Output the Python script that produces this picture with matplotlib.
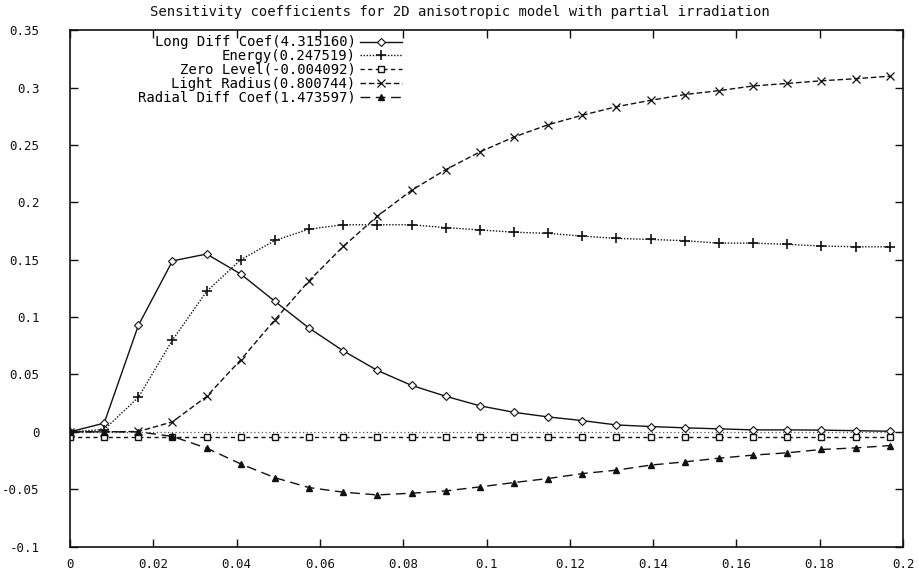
import matplotlib
matplotlib.use("Agg")
import matplotlib.pyplot as plt

# sampling positions along the x axis
x = [0.0, 0.0082, 0.0164, 0.0246, 0.0328, 0.041, 0.0492, 0.0574, 0.0656,
     0.0738, 0.082, 0.0902, 0.0984, 0.1066, 0.1148, 0.123, 0.1312, 0.1394,
     0.1476, 0.1558, 0.164, 0.1722, 0.1804, 0.1886, 0.1968]

long_diff = [0.0, 0.0076, 0.0927, 0.149, 0.155, 0.1375, 0.1137, 0.0904, 0.0706,
             0.0535, 0.0405, 0.031, 0.0227, 0.017, 0.013, 0.0098, 0.006, 0.0046,
             0.0035, 0.0026, 0.0017, 0.0017, 0.0015, 0.001, 0.0005]
energy = [0.0, 0.002, 0.030, 0.080, 0.1224, 0.150, 0.1668, 0.1767, 0.1805,
          0.1805, 0.1805, 0.178, 0.176, 0.174, 0.173, 0.1706, 0.1686, 0.1677,
          0.1666, 0.1645, 0.1645, 0.1634, 0.162, 0.1613, 0.1613]
zero_level = [-0.004092, -0.004092, -0.004092, -0.004092, -0.004092,
              -0.004092, -0.004092, -0.004092, -0.004092, -0.004092,
              -0.004092, -0.004092, -0.004092, -0.004092, -0.004092,
              -0.004092, -0.004092, -0.004092, -0.004092, -0.004092,
              -0.004092, -0.004092, -0.004092, -0.004092, -0.004092]
light_radius = [0.0, 0.0, 0.0003, 0.0087, 0.0308, 0.0628, 0.0977, 0.1317, 0.1616,
                0.188, 0.2105, 0.2285, 0.244, 0.257, 0.2677, 0.276, 0.2834, 0.289,
                0.294, 0.2974, 0.3015, 0.3037, 0.306, 0.3078, 0.31]
radial_diff = [0.0, 0.0, 0.0, -0.004, -0.0142, -0.028, -0.040, -0.0486, -0.0526,
               -0.055, -0.0535, -0.0515, -0.048, -0.0442, -0.0407, -0.0364, -0.0334,
               -0.029, -0.0262, -0.023, -0.0203, -0.0183, -0.0154, -0.014, -0.012]

labels = ["Long Diff Coef(4.315160)", "Energy(0.247519)", "Zero Level(-0.004092)",
          "Light Radius(0.800744)", "Radial Diff Coef(1.473597)"]

xticks = [0, 0.02, 0.04, 0.06, 0.08, 0.1, 0.12, 0.14, 0.16, 0.18, 0.2]
xtick_labels = ["0", "0.02", "0.04", "0.06", "0.08", "0.1", "0.12", "0.14", "0.16", "0.18", "0.2"]
yticks = [-0.1, -0.05, 0, 0.05, 0.1, 0.15, 0.2, 0.25, 0.3, 0.35]
ytick_labels = ["-0.1", "-0.05", "0", "0.05", "0.1", "0.15", "0.2", "0.25", "0.3", "0.35"]

plt.rcParams['font.family'] = ['DejaVu Sans Mono']

fig = plt.figure(figsize=(9.19, 5.72), dpi=100)
ax = fig.add_axes([0.0762, 0.0445, 0.9064, 0.9025])

ink = '#111111'
ax.axhline(0, color='#555555', lw=0.9, ls=(0, (1, 2)), zorder=1)

ax.plot(x, long_diff, color=ink, lw=1.0, ls='-', marker='D', ms=4,
        mfc='white', mec=ink, mew=0.8, label=labels[0])
ax.plot(x, energy, color=ink, lw=1.0, ls=(0, (1, 1.2)), marker='+', ms=7,
        mew=1.2, label=labels[1])
ax.plot(x, zero_level, color=ink, lw=1.0, ls=(0, (3, 2.5)), marker='s', ms=5,
        mfc='white', mec=ink, mew=1.0, label=labels[2])
ax.plot(x, light_radius, color=ink, lw=1.0, ls=(0, (4, 2)), marker='x', ms=6,
        mew=0.9, label=labels[3])
ax.plot(x, radial_diff, color=ink, lw=1.0, ls=(0, (7, 4)), marker='^', ms=4.5,
        mfc=ink, mec=ink, label=labels[4])

ax.set_xlim(0, 0.2)
ax.set_ylim(-0.1, 0.35)
ax.set_xticks(xticks)
ax.set_xticklabels(xtick_labels)
ax.set_yticks(yticks)
ax.set_yticklabels(ytick_labels)
ax.tick_params(direction='in', length=6, width=1, top=True, right=True,
               labelsize=9, colors=ink)
ax.tick_params(axis='y', pad=22)
ax.tick_params(axis='x', pad=8)
for sp in ax.spines.values():
    sp.set_linewidth(1.2)
    sp.set_color(ink)

fig.text(0.5, 0.979, "Sensitivity coefficients for 2D anisotropic model with partial irradiation",
         fontsize=10, ha='center', va='center', color=ink)

leg = ax.legend(loc='upper right', bbox_to_anchor=(0.3986, 0.99), frameon=False,
                markerfirst=False, handlelength=3.0, handletextpad=0.35,
                labelspacing=-0.02, fontsize=10, borderpad=0, borderaxespad=0)

fig.savefig("out.png", dpi=100)
